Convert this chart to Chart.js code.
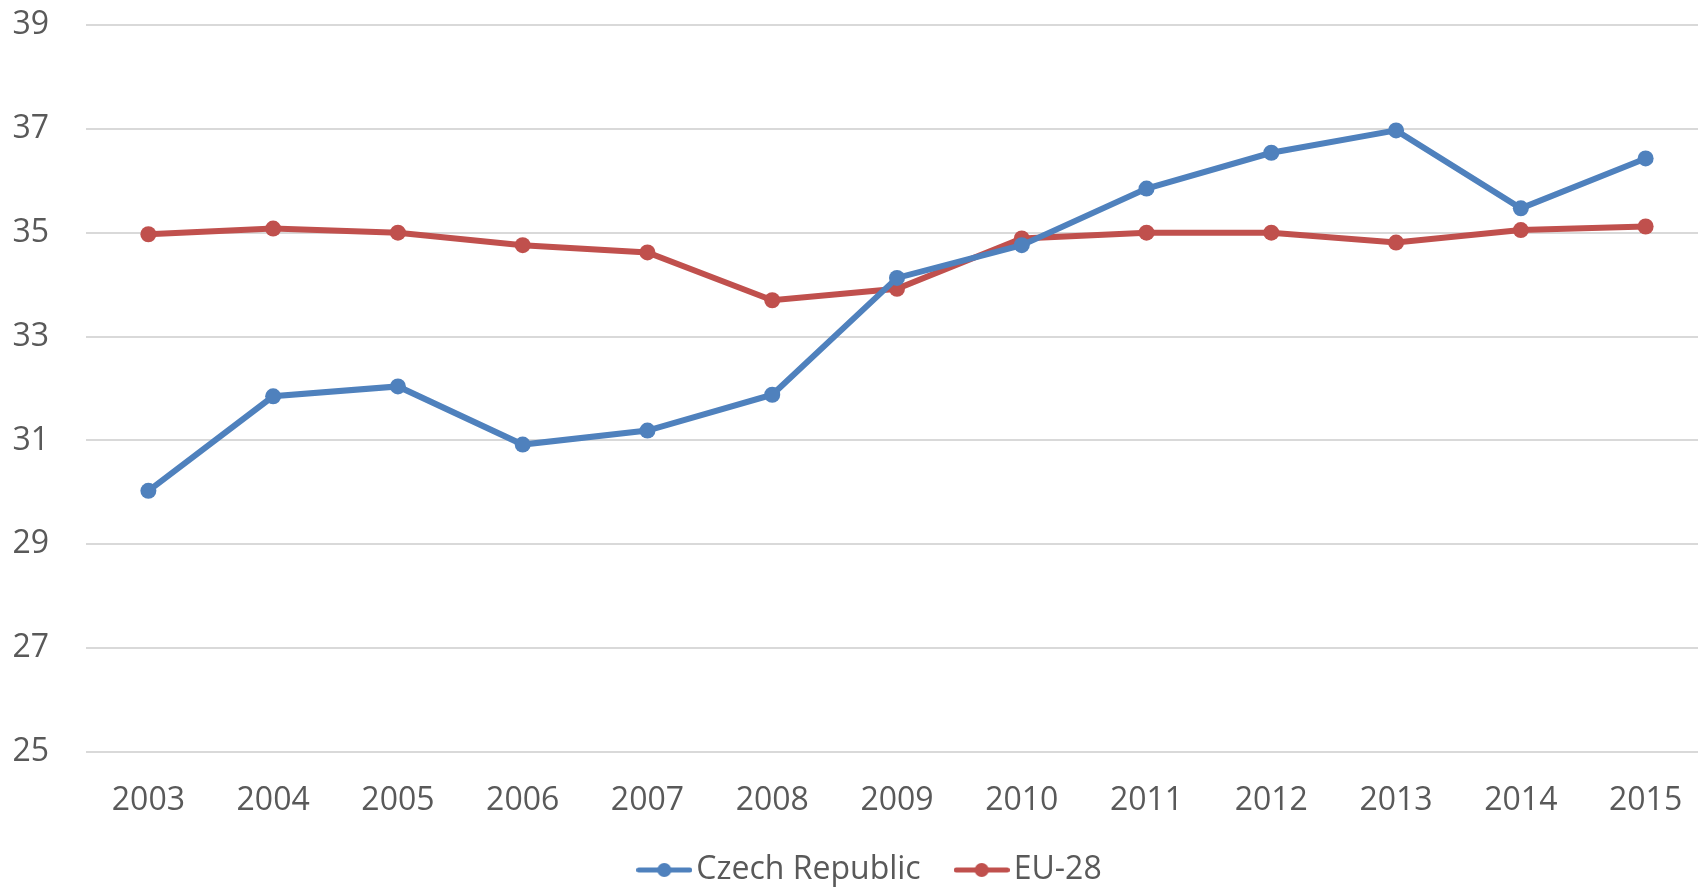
<!DOCTYPE html>
<html>
<head>
<meta charset="utf-8">
<script src="https://cdn.jsdelivr.net/npm/chart.js@4/dist/chart.umd.min.js"></script>
<style>
  html, body { margin: 0; padding: 0; background: #fff; overflow: hidden; }
  #wrap { width: 1698px; height: 888px; overflow: hidden; position: relative; }
  canvas { display: block; }
</style>
</head>
<body>
<div id="wrap"><canvas id="c" width="1716" height="921"></canvas></div>
<script>
const years = ['2003','2004','2005','2006','2007','2008','2009','2010','2011','2012','2013','2014','2015'];
const czechRepublic = [30.03, 31.85, 32.04, 30.92, 31.19, 31.88, 34.13, 34.76, 35.85, 36.54, 36.97, 35.47, 36.43];
const eu28 = [34.97, 35.08, 35.00, 34.76, 34.62, 33.70, 33.92, 34.89, 35.00, 35.00, 34.81, 35.05, 35.12];
const yTicks = [25, 27, 29, 31, 33, 35, 37, 39];

const BLUE = '#4F81BD';
const RED = '#C0504D';
const TEXT = '#595959';
const FONT = '"Open Sans"';

function legendSymbol(color) {
  const cv = document.createElement('canvas');
  cv.width = 56; cv.height = 18;
  const g = cv.getContext('2d');
  g.strokeStyle = color; g.lineWidth = 5; g.lineCap = 'round';
  g.beginPath(); g.moveTo(2.5, 9); g.lineTo(53.5, 9); g.stroke();
  g.fillStyle = color;
  g.beginPath(); g.arc(28, 9, 7, 0, Math.PI * 2); g.fill();
  return cv;
}
const symBlue = legendSymbol(BLUE);
const symRed = legendSymbol(RED);

const legendShift = {
  id: 'legendShift',
  afterLayout(chart) {
    const lg = chart.legend;
    if (lg) {
      lg.left += 17; lg.right += 17;
      lg.top -= 25; lg.bottom -= 25;
    }
  }
};

new Chart(document.getElementById('c'), {
  type: 'line',
  plugins: [legendShift],
  data: {
    labels: years,
    datasets: [
      { label: 'Czech Republic', data: czechRepublic, borderColor: BLUE, backgroundColor: BLUE,
        borderWidth: 6, pointRadius: 8, pointHoverRadius: 8, pointBorderWidth: 0, tension: 0, legendSym: symBlue },
      { label: 'EU-28', data: eu28, borderColor: RED, backgroundColor: RED,
        borderWidth: 6, pointRadius: 8, pointHoverRadius: 8, pointBorderWidth: 0, tension: 0, legendSym: symRed }
    ]
  },
  options: {
    responsive: false,
    animation: false,
    devicePixelRatio: 1,
    layout: { padding: { top: 25, left: 0, right: 0, bottom: 0 } },
    plugins: {
      tooltip: { enabled: false },
      legend: {
        position: 'bottom',
        labels: {
          usePointStyle: true,
          pointStyleWidth: 32,
          padding: 45,
          color: TEXT,
          font: { family: FONT, size: 32 },
          generateLabels(chart) {
            return chart.data.datasets.map((ds, i) => ({
              text: ds.label,
              fillStyle: ds.backgroundColor,
              strokeStyle: ds.borderColor,
              lineWidth: 0,
              pointStyle: ds.legendSym,
              fontColor: TEXT,
              hidden: false,
              datasetIndex: i
            }));
          }
        }
      }
    },
    scales: {
      x: {
        offset: true,
        grid: { display: false, drawTicks: false },
        border: { display: false },
        ticks: { color: TEXT, font: { family: FONT, size: 32 }, padding: 30, maxRotation: 0, autoSkip: false },
        afterFit(scale) { scale.height = 82; scale.paddingLeft = 0; scale.paddingRight = 0; }
      },
      y: {
        min: 25, max: 39,
        afterBuildTicks(scale) { scale.ticks = yTicks.map(v => ({ value: v })); },
        grid: { color: '#D9D9D9', lineWidth: 2, drawTicks: false },
        border: { display: false },
        ticks: { color: TEXT, font: { family: FONT, size: 32 }, padding: 37 },
        afterFit(scale) { scale.width = 86; scale.paddingTop = 0; scale.paddingBottom = 0; }
      }
    }
  }
});
</script>
</body>
</html>
